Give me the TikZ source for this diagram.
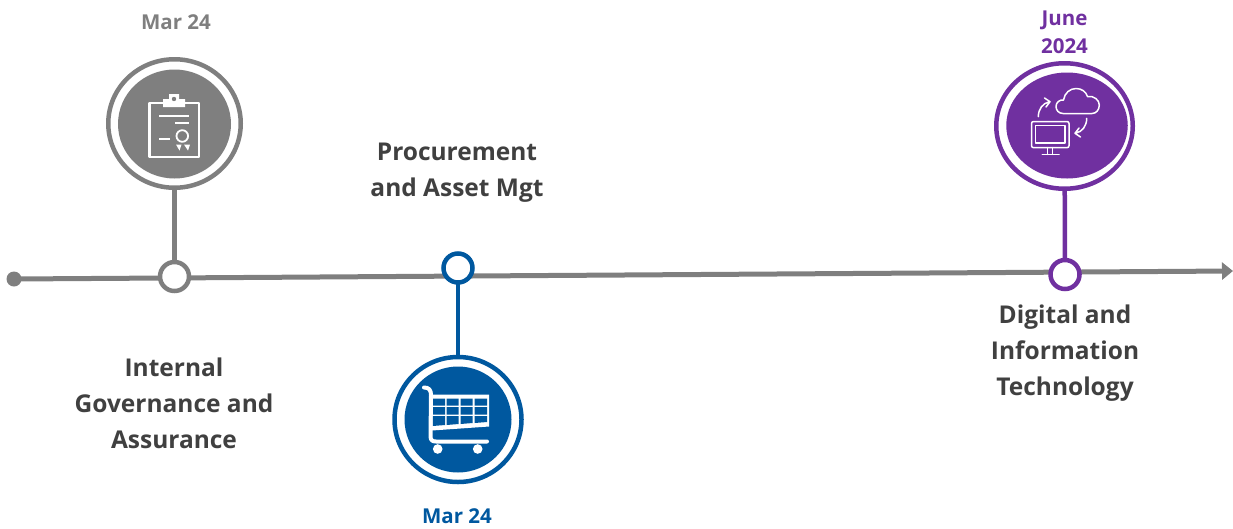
\documentclass[tikz,border=0pt]{standalone}
\usepackage{fontspec}
\setmainfont{Open Sans}
\usetikzlibrary{arrows.meta,shapes.geometric}
\definecolor{axisgrey}{HTML}{7F7F7F}
\definecolor{procblue}{HTML}{00589F}
\definecolor{techpurple}{HTML}{7030A0}
\definecolor{labeltext}{HTML}{404040}
\tikzset{
	ringnode/.style={ellipse, draw=#1, line width=4.5pt, fill=white, inner sep=0pt, outer sep=0pt},
	discnode/.style={ellipse, fill=#1, inner sep=0pt, outer sep=0pt},
	pointnode/.style={circle, draw=#1, line width=4.5pt, fill=white, inner sep=0pt, outer sep=0pt, minimum size=29pt},
	areatext/.style={text=labeltext, font=\fontsize{24.5}{36}\selectfont\bfseries, align=center},
	datetext/.style={text=#1, font=\fontsize{20.5}{28}\selectfont\bfseries, align=center},
	icon/.style={draw=white, line width=2.2pt, line join=round, line cap=round},
	thinicon/.style={draw=white, line width=1.5pt, line join=round, line cap=round}
}
\begin{document}
\begin{tikzpicture}[x=1pt, y=-1pt, >=stealth]
	\useasboundingbox (0,0) rectangle (1233,528);
	% axis
	\node[circle, fill=axisgrey, inner sep=0pt, minimum size=15pt] (axisdot) at (14,279) {};
	\coordinate (axisend) at (1233,271);
	\draw[axisgrey, line width=5pt, -{Triangle[width=17pt,length=11pt]}] (axisdot.center)--(axisend);
	% internal governance
	\node[pointnode=axisgrey] (govpoint) at (174.5,276.5) {};
	\node[ringnode=axisgrey, minimum width=132.5pt, minimum height=128.5pt] (govring) at (174.5,123.5) {};
	\node[discnode=axisgrey, minimum width=113pt, minimum height=109pt] (govdisc) at (174.5,124) {};
	\draw[axisgrey, line width=4.5pt] (govring)--(govpoint);
	\draw[icon] (163,103)--(149.5,103)--(149.5,157)--(199,157)--(199,103)--(185,103);
	\fill[white] (163,107)--(163,99)--(169,99)--(169,94)--(179,94)--(179,99)--(185,99)--(185,107)--cycle;
	\fill[axisgrey] (174,99) circle [radius=2.2pt];
	\draw[icon, line cap=butt, line width=1.8pt] (159.3,116)--(189.3,116) (175,122.7)--(189.3,122.7) (159.3,139)--(170,139);
	\draw[icon, line width=1.8pt] (182.3,136) circle [radius=5.8pt];
	\fill[white] (176,144.5)--(181.5,144.5)--(179.5,150.5)--cycle (184,144.5)--(190,144.5)--(188,150.5)--cycle;
	\node[datetext=axisgrey] (govdate) at (176,22) {Mar 24};
	\node[areatext] (govtext) at (174,403) {Internal\\Governance and\\Assurance};
	% procurement
	\node[pointnode=procblue] (procpoint) at (458,268) {};
	\node[ringnode=procblue, minimum width=127pt, minimum height=125pt] (procring) at (458,419.5) {};
	\node[discnode=procblue, minimum width=107pt, minimum height=106pt] (procdisc) at (458,419.5) {};
	\draw[procblue, line width=4.5pt] (procpoint)--(procring);
	\fill[white] (431.5,394.5)--(489,394.5)--(489,426.5)--(432,430.5)--cycle;
	\fill[procblue] (432.5,398.5)--(445,398.5)--(445,405.5)--(432.5,405.5)--cycle
		(446.5,398.5)--(458.5,398.5)--(458.5,405.5)--(446.5,405.5)--cycle
		(460.5,398.5)--(472.5,398.5)--(472.5,405.5)--(460.5,405.5)--cycle
		(474.5,398.5)--(487,398.5)--(487,405.5)--(474.5,405.5)--cycle
		(432.5,407)--(445,407)--(445,414.5)--(432.5,414.5)--cycle
		(446.5,407)--(458.5,407)--(458.5,414.5)--(446.5,414.5)--cycle
		(460.5,407)--(472.5,407)--(472.5,414.5)--(460.5,414.5)--cycle
		(474.5,407)--(487,407)--(487,414.5)--(474.5,414.5)--cycle
		(432.5,416)--(445,416)--(445,425)--(432.5,426)--cycle
		(446.5,416)--(458.5,416)--(458.5,424)--(446.5,425)--cycle
		(460.5,416)--(472.5,416)--(472.5,423)--(460.5,424)--cycle
		(474.5,416)--(487,416)--(487,422)--(474.5,423)--cycle;
	\draw[icon, line width=4pt] (424,387.5) .. controls (429,387.5) and (431,390) .. (431,395) -- (430.5,436) .. controls (430.5,440) and (432,441.5) .. (436,441.5) -- (487,441.5);
	\fill[white] (437.7,449) circle [radius=4.8pt] (477.7,449) circle [radius=4.8pt];
	\node[datetext=procblue] (procdate) at (457,516.5) {Mar 24};
	\node[areatext] (proctext) at (457,173) {Procurement\\and Asset Mgt};
	% digital and information technology
	\node[pointnode=techpurple] (techpoint) at (1065,274.5) {};
	\node[ringnode=techpurple, minimum width=136.5pt, minimum height=125.5pt] (techring) at (1064.5,126) {};
	\node[discnode=techpurple, minimum width=121.5pt, minimum height=106pt] (techdisc) at (1067,125.5) {};
	\draw[techpurple, line width=4.5pt] (techring)--(techpoint);
	\draw[thinicon] (1063,113.5) .. controls (1058.5,113.5) and (1056,110) .. (1056,106.5) .. controls (1056,102.5) and (1059.5,99.5) .. (1063.5,100) .. controls (1064.5,93) and (1070,88.5) .. (1076,88.5) .. controls (1082,88.5) and (1086,92) .. (1087.5,96.5) .. controls (1094,95.5) and (1099.3,100) .. (1099.3,105) .. controls (1099.3,110) and (1096,113.5) .. (1092,113.5) -- cycle;
	\draw[thinicon, rounded corners=2pt] (1031.5,121.5) rectangle (1069,147.7);
	\draw[thinicon] (1035.5,125.5) rectangle (1065,143);
	\draw[thinicon] (1047.7,147.7)--(1047.7,154.3) (1052.3,147.7)--(1052.3,154.3) (1042.3,154.3)--(1059,154.3);
	\draw[thinicon] (1038.3,116.7) .. controls (1038.3,109) and (1043,103) .. (1049,102) (1044.5,98) -- (1050,101.7) -- (1046,107);
	\draw[thinicon] (1086.7,118.3) .. controls (1086.7,126) and (1082,132) .. (1076,133) (1080.5,137) -- (1075,133.3) -- (1079,128);
	\node[datetext=techpurple] (techdate) at (1064.5,32) {June\\2024};
	\node[areatext] (techtext) at (1065,353.5) {Digital and\\Information\\Technology};
\end{tikzpicture}
\end{document}
